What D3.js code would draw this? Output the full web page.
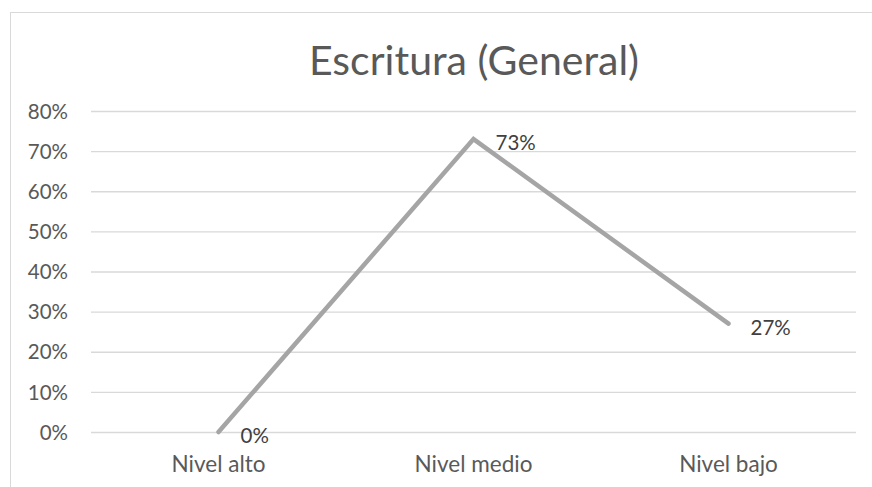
<!DOCTYPE html>
<html><head><meta charset="utf-8">
<script src="https://cdn.jsdelivr.net/npm/d3@7/dist/d3.min.js"></script>
<style>body{margin:0;background:#fff;} svg{display:block;}</style>
</head><body><svg id="c" width="872" height="487"></svg>
<script>
const categories = ["Nivel alto", "Nivel medio", "Nivel bajo"];
const values = [0, 0.73, 0.27];
const yTicks = [0, 0.1, 0.2, 0.3, 0.4, 0.5, 0.6, 0.7, 0.8];
const title = "Escritura (General)";

const svg = d3.select("#c");
const font = "Lato, 'Open Sans', sans-serif";
const m = {left: 91, right: 856, top: 111, bottom: 432};

svg.append("rect").attr("x", 10.5).attr("y", 12.5).attr("width", 900).attr("height", 520)
  .attr("fill", "#fff").attr("stroke", "#d9d9d9").attr("stroke-width", 1);

const x = d3.scaleBand().domain(categories).range([m.left, m.right]);
const y = d3.scaleLinear().domain([0, 0.8]).range([m.bottom, m.top]);

const yAxis = d3.axisLeft(y).tickValues(yTicks).tickFormat(d3.format(".0%"))
  .tickSize(-(m.right - m.left)).tickPadding(23);
const gy = svg.append("g").attr("transform", `translate(${m.left},0)`).call(yAxis);
gy.select(".domain").remove();
gy.selectAll(".tick line").attr("stroke", "#d9d9d9").attr("stroke-width", 1.3);
gy.selectAll(".tick text").attr("fill", "#595959").style("font-family", font).style("font-size", "20.5px").attr("dy", "0.35em");

const xAxis = d3.axisBottom(x).tickSize(0).tickPadding(24);
const gx = svg.append("g").attr("transform", `translate(0,${m.bottom})`).call(xAxis);
gx.select(".domain").remove();
gx.selectAll(".tick text").attr("fill", "#595959").style("font-family", font).style("font-size", "22.5px");

const line = d3.line().x((d, i) => x(categories[i]) + x.bandwidth() / 2).y(d => y(d));
svg.append("path").datum(values).attr("d", line).attr("fill", "none")
  .attr("stroke", "#a5a5a5").attr("stroke-width", 4.5).attr("stroke-linejoin", "miter").attr("stroke-linecap", "round");

svg.selectAll(".lbl").data(values).join("text").attr("class", "lbl")
  .attr("x", (d, i) => x(categories[i]) + x.bandwidth() / 2 + 22)
  .attr("y", d => y(d) + 11)
  .attr("fill", "#404040").style("font-family", font).style("font-size", "20.5px")
  .text(d => d3.format(".0%")(d));

svg.append("text").attr("x", 474).attr("y", 75).attr("text-anchor", "middle")
  .attr("fill", "#595959").style("font-family", font).style("font-size", "41px")
  .text(title);
</script></body></html>
